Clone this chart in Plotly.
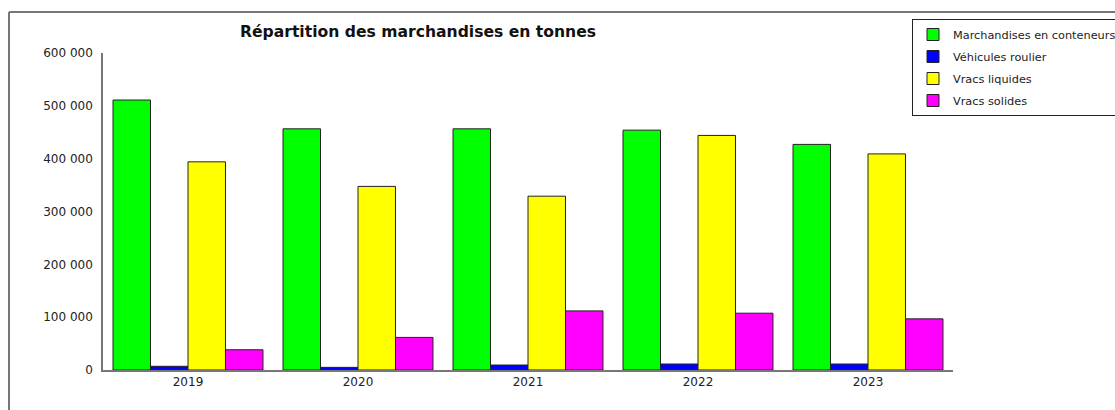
import plotly.graph_objects as go

annees = ["2019", "2020", "2021", "2022", "2023"]
conteneurs = [511000, 456500, 456500, 454000, 427000]
roulier = [7000, 5000, 9400, 11300, 11300]
liquides = [394000, 347500, 329000, 444000, 409000]
solides = [38300, 61700, 111900, 107500, 96800]

series = [
    ("Marchandises en conteneurs", conteneurs, "#00ff00"),
    ("Véhicules roulier", roulier, "#0000ff"),
    ("Vracs liquides", liquides, "#ffff00"),
    ("Vracs solides", solides, "#ff00ff"),
]

W, H = 1115, 410
L, R, T, B = 103, 162, 53, 40
pw, ph = W - L - R, H - T - B

fig = go.Figure()
for nom, vals, coul in series:
    fig.add_trace(go.Bar(
        x=annees, y=vals, name=nom, legendgroup=nom,
        marker=dict(color=coul, line=dict(color="#222222", width=1)),
    ))

# cadre gris autour du graphique (haut et gauche)
def px_x(p):
    return (p - L) / pw

def px_y(p):
    return (H - B - p) / ph

cadre = dict(color="#777777", width=2)
fig.add_shape(type="line", xref="paper", yref="paper",
              x0=px_x(9), x1=px_x(W + 5), y0=px_y(12), y1=px_y(12), line=cadre)
fig.add_shape(type="line", xref="paper", yref="paper",
              x0=px_x(9), x1=px_x(9), y0=px_y(12), y1=px_y(H + 5), line=cadre)

police = "DejaVu Sans, Tahoma, sans-serif"

fig.update_layout(
    width=W, height=H,
    margin=dict(l=L, r=R, t=T, b=B, autoexpand=False),
    paper_bgcolor="white", plot_bgcolor="white",
    barmode="group", bargap=0.118, bargroupgap=0,
    separators=", ",
    font=dict(family=police, size=12, color="#222222"),
    title=dict(
        text="<b>Répartition des marchandises en tonnes</b>",
        x=418 / W, xref="container", xanchor="center",
        y=1 - 32 / H, yref="container", yanchor="middle",
        font=dict(family=police, size=15.6, color="#111111"),
    ),
    legend=dict(
        x=912 / W, y=1 - 19 / H, xref="container", yref="container",
        xanchor="left", yanchor="top",
        bordercolor="#222222", borderwidth=1, bgcolor="white",
        font=dict(family=police, size=11.3, color="#222222"),
        traceorder="grouped", tracegroupgap=3,
    ),
    xaxis=dict(
        showline=True, linecolor="#777777", linewidth=1.5,
        showgrid=False, ticks="", fixedrange=True,
    ),
    yaxis=dict(
        range=[0, 600000], tickvals=[0, 100000, 200000, 300000, 400000, 500000, 600000],
        tickformat=",d", showline=True, linecolor="#777777", linewidth=1.5,
        showgrid=False, zeroline=False, ticks="outside", ticklen=6, tickcolor="white",
    ),
)

# la page par défaut a une marge de 8 px autour du body
fig.write_html("out.html", config={"displayModeBar": False},
               post_script="document.body.style.margin = '0px';")
